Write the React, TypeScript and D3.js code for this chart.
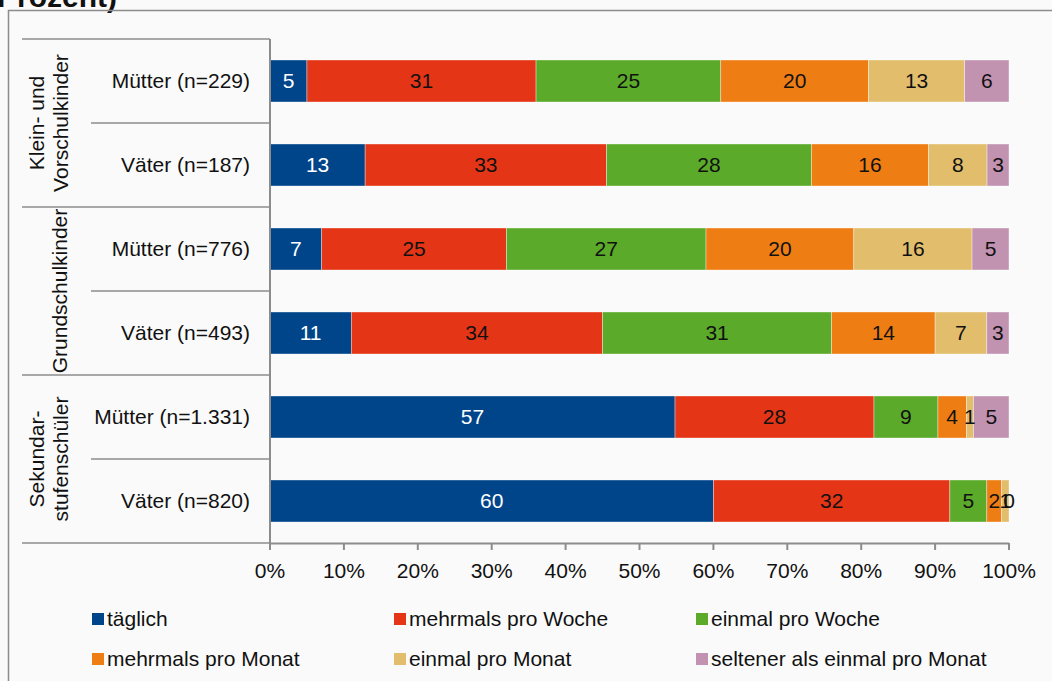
import React from "react";
import * as d3 from "d3";

const series = [
  "täglich",
  "mehrmals pro Woche",
  "einmal pro Woche",
  "mehrmals pro Monat",
  "einmal pro Monat",
  "seltener als einmal pro Monat",
];
const colors = ["#00458A", "#E53517", "#5BAA2A", "#EE7D14", "#E2BE6C", "#C293B1"];
const rowLabels = [
  "Mütter (n=229)",
  "Väter (n=187)",
  "Mütter (n=776)",
  "Väter (n=493)",
  "Mütter (n=1.331)",
  "Väter (n=820)",
];
const groups: string[][] = [
  ["Klein- und", "Vorschulkinder"],
  ["Grundschulkinder"],
  ["Sekundar-", "stufenschüler"],
];
const values: number[][] = [
  [5, 31, 25, 20, 13, 6],
  [13, 33, 28, 16, 8, 3],
  [7, 25, 27, 20, 16, 5],
  [11, 34, 31, 14, 7, 3],
  [57, 28, 9, 4, 1, 5],
  [60, 32, 5, 2, 1, 0],
];
const ticks = [0, 10, 20, 30, 40, 50, 60, 70, 80, 90, 100];

export default function App() {
  const W = 1052, H = 681;
  const x = d3.scaleLinear().domain([0, 100]).range([270, 1009]);
  const y = d3.scaleBand<number>().domain(d3.range(6)).range([39, 543]).paddingInner(0.5).paddingOuter(0.25);
  const step = y.step();
  const font = "Arial, 'Liberation Sans', sans-serif";
  const grey = "#8c8c8c";
  const fs = 21;

  const stacked = values.map((row) => {
    const total = d3.sum(row);
    let acc = 0;
    return row.map((v, i) => {
      const x0 = (acc / total) * 100;
      acc += v;
      const x1 = (acc / total) * 100;
      return { v, i, x0, x1 };
    });
  });

  const legendCols = [92, 394, 696];
  const legendRows = [619, 659];

  return (
    <svg width={W} height={H} style={{ position: "absolute", left: 0, top: 0, background: "#fafafa" }} fontFamily={font}>
      <rect x={0} y={0} width={W} height={H} fill="#fafafa" />
      <text x={-3} y={7} fontSize={30} fontWeight="bold" fill="#111">Prozent)</text>
      <path d={`M8.5,${H + 5} V10.5 H${W + 5}`} fill="none" stroke={grey} strokeWidth={1.5} />

      {d3.range(7).map((k) => {
        const yy = 39 + k * step;
        const full = k % 2 === 0;
        return <line key={k} x1={full ? 22 : 91} x2={270} y1={yy} y2={yy} stroke={grey} strokeWidth={1.5} />;
      })}

      {stacked.map((row, r) =>
        row.map((s) => (
          <rect key={`${r}-${s.i}`} x={x(s.x0)} y={y(r)!} width={x(s.x1) - x(s.x0)} height={y.bandwidth()}
            fill={colors[s.i]} stroke="rgba(255,255,255,0.6)" strokeWidth={0.6} />
        ))
      )}
      {stacked.map((row, r) =>
        row.map((s) => (
          <text key={`t${r}-${s.i}`} x={x((s.x0 + s.x1) / 2)} y={y(r)! + y.bandwidth() / 2} dy="0.35em"
            textAnchor="middle" fontSize={fs} fill={s.i === 0 ? "#fff" : "#111"}>{s.v}</text>
        ))
      )}

      <line x1={270} x2={270} y1={39} y2={550} stroke={grey} strokeWidth={2} />
      <line x1={270} x2={1009} y1={543.5} y2={543.5} stroke={grey} strokeWidth={2} />
      {ticks.map((t) => (
        <g key={t}>
          <line x1={x(t)} x2={x(t)} y1={543} y2={550} stroke={grey} strokeWidth={2} />
          <text x={x(t)} y={571} dy="0.35em" textAnchor="middle" fontSize={fs} fill="#111">{t}%</text>
        </g>
      ))}

      {rowLabels.map((l, r) => (
        <text key={l} x={250} y={y(r)! + y.bandwidth() / 2} dy="0.35em" textAnchor="end" fontSize={fs} fill="#111">{l}</text>
      ))}

      {groups.map((g, gi) => {
        const cy = 39 + step * (gi * 2 + 1);
        return g.map((line, li) => {
          const bx = g.length === 1 ? 67 : 44 + li * 24;
          return (
            <text key={`${gi}-${li}`} transform={`translate(${bx},${cy}) rotate(-90)`} textAnchor="middle" fontSize={fs} fill="#111">{line}</text>
          );
        });
      })}

      {series.map((s, i) => {
        const cx = legendCols[i % 3];
        const cy = legendRows[Math.floor(i / 3)];
        return (
          <g key={s}>
            <rect x={cx} y={cy - 6} width={12} height={12} fill={colors[i]} />
            <text x={cx + 15} y={cy} dy="0.35em" fontSize={fs} fill="#111">{s}</text>
          </g>
        );
      })}
    </svg>
  );
}
